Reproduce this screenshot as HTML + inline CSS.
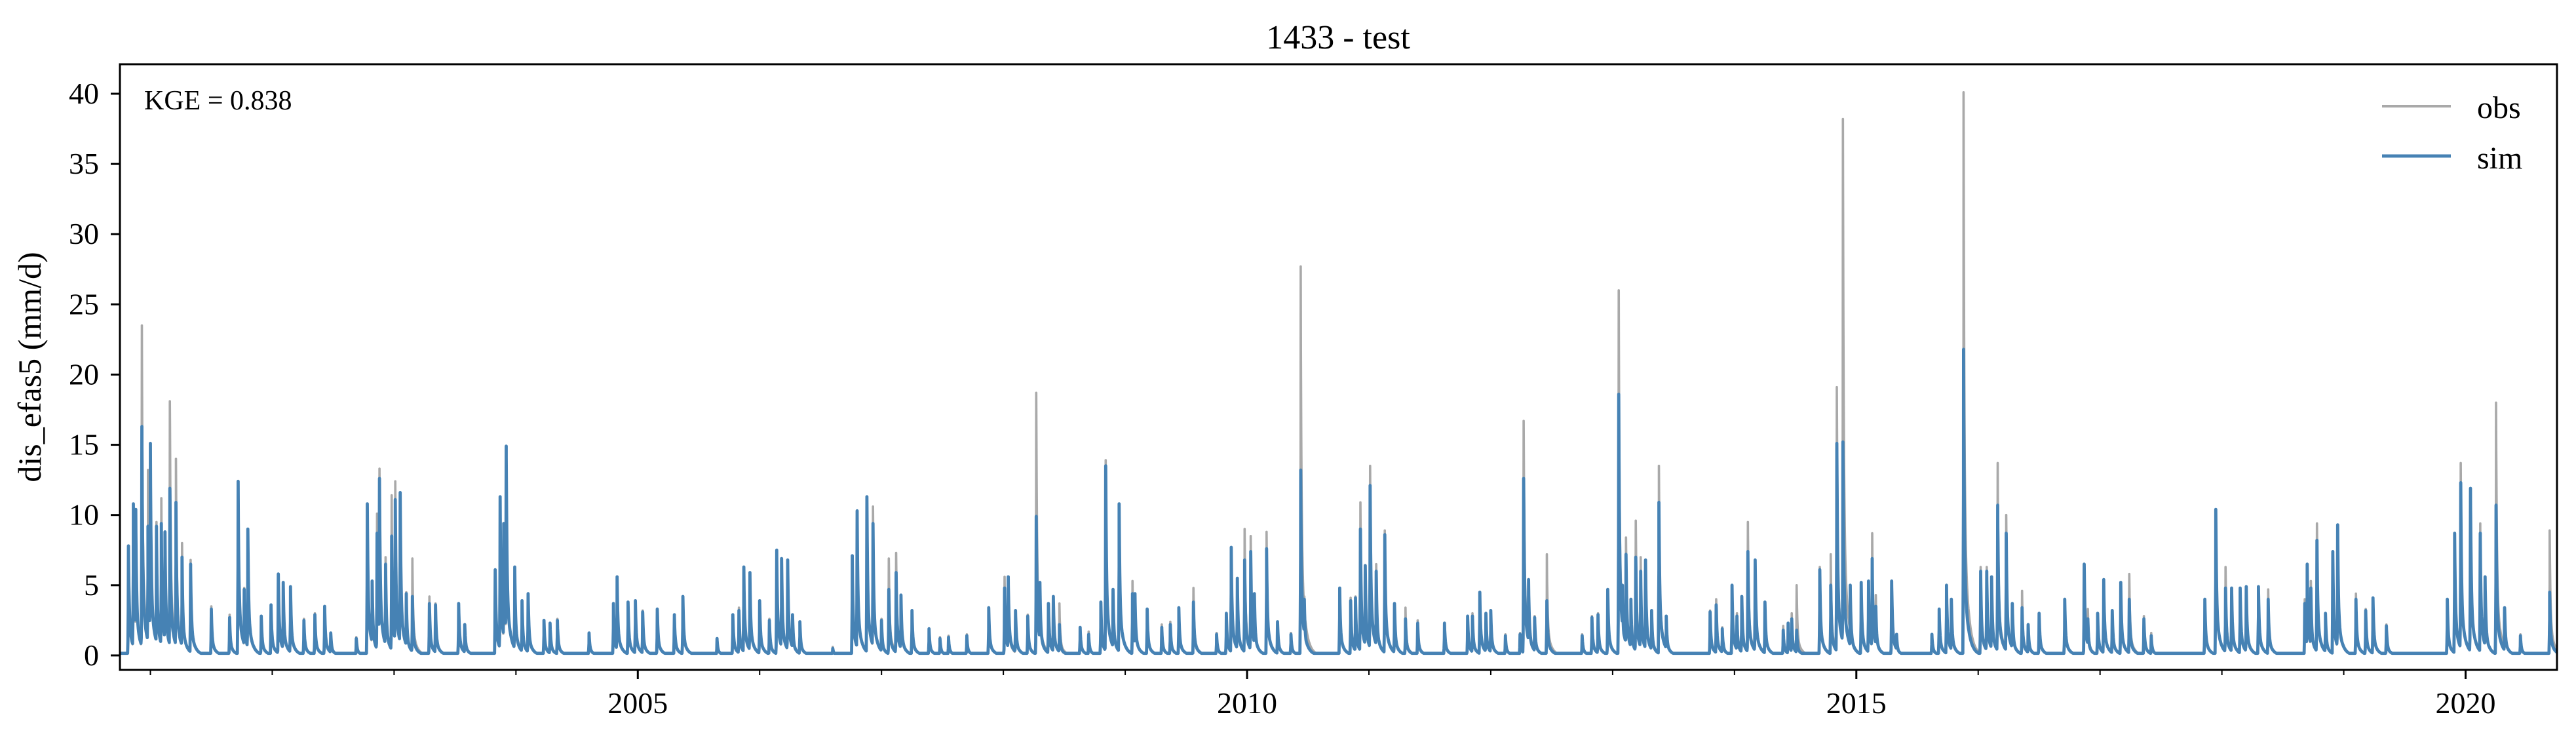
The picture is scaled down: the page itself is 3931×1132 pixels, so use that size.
<!DOCTYPE html>
<html><head><meta charset="utf-8"><style>
html,body{margin:0;padding:0;background:#fff;}
svg{display:block;}
text{font-family:"Liberation Serif",serif;fill:#000;}
</style></head><body>
<svg id="chart" width="3931" height="1132" viewBox="0 0 3931 1132" xmlns="http://www.w3.org/2000/svg">
<rect width="3931" height="1132" fill="#fff"/>
<text x="2042" y="74" font-size="52" text-anchor="middle">1433 - test</text>
<g id="plot"></g>
<g id="axes"></g>
<text x="220" y="167" font-size="42">KGE = 0.838</text>
<g>
  <g>
    <line x1="3635" y1="162" x2="3740" y2="162" stroke="#a9a9a9" stroke-width="4"/>
    <text x="3780" y="180" font-size="48">obs</text>
  </g>
  <g>
    <line x1="3635" y1="238" x2="3740" y2="238" stroke="#4682b4" stroke-width="5"/>
    <text x="3780" y="257" font-size="48">sim</text>
  </g>
</g>
<text x="0" y="0" font-size="50" text-anchor="middle" transform="translate(62,560) rotate(-90)">dis_efas5 (mm/d)</text>
</svg>
<script>
const eventYears=[2000.82,2000.86,2000.88,2000.93,2000.98,2001.0,2001.05,2001.09,2001.12,2001.16,2001.21,2001.26,2001.33,2001.5,2001.65,2001.72,2001.77,2001.8,2001.91,2001.99,2002.05,2002.09,2002.15,2002.26,2002.35,2002.43,2002.48,2002.69,2002.78,2002.82,2002.86,2002.88,2002.93,2002.98,2003.01,2003.05,2003.1,2003.15,2003.29,2003.34,2003.53,2003.58,2003.83,2003.87,2003.9,2003.92,2003.99,2004.05,2004.1,2004.23,2004.28,2004.34,2004.6,2004.8,2004.83,2004.92,2004.98,2005.04,2005.16,2005.3,2005.37,2005.65,2005.78,2005.83,2005.87,2005.92,2006.0,2006.08,2006.14,2006.18,2006.23,2006.27,2006.33,2006.6,2006.76,2006.8,2006.88,2006.93,2007.0,2007.06,2007.12,2007.16,2007.25,2007.39,2007.48,2007.55,2007.7,2007.88,2008.01,2008.04,2008.1,2008.2,2008.27,2008.3,2008.37,2008.41,2008.46,2008.63,2008.7,2008.8,2008.84,2008.9,2008.95,2009.06,2009.08,2009.18,2009.3,2009.37,2009.44,2009.56,2009.75,2009.83,2009.87,2009.92,2009.98,2010.03,2010.06,2010.16,2010.25,2010.36,2010.44,2010.47,2010.76,2010.85,2010.89,2010.93,2010.97,2011.01,2011.06,2011.13,2011.21,2011.3,2011.4,2011.62,2011.81,2011.85,2011.91,2011.96,2012.0,2012.12,2012.24,2012.27,2012.31,2012.36,2012.46,2012.75,2012.83,2012.88,2012.96,2013.05,2013.08,2013.11,2013.15,2013.19,2013.23,2013.27,2013.32,2013.38,2013.44,2013.8,2013.85,2013.9,2013.98,2014.02,2014.06,2014.11,2014.17,2014.25,2014.4,2014.44,2014.47,2014.51,2014.7,2014.79,2014.84,2014.89,2014.95,2015.04,2015.1,2015.13,2015.16,2015.29,2015.33,2015.62,2015.68,2015.74,2015.78,2015.88,2016.02,2016.07,2016.11,2016.16,2016.23,2016.28,2016.36,2016.41,2016.5,2016.71,2016.87,2016.9,2016.98,2017.03,2017.1,2017.17,2017.24,2017.36,2017.42,2017.86,2017.95,2018.03,2018.08,2018.15,2018.2,2018.3,2018.38,2018.68,2018.7,2018.73,2018.78,2018.85,2018.91,2018.95,2019.1,2019.18,2019.24,2019.35,2019.85,2019.91,2019.96,2020.04,2020.12,2020.16,2020.25,2020.32,2020.45,2020.69];
const obsPeaks=[7.8,10.8,10.4,23.5,13.2,15.1,9.5,11.2,8.8,18.1,14.0,8.0,6.8,3.5,2.9,12.4,4.8,9.0,2.8,3.6,5.8,5.2,4.9,2.6,3.0,3.5,1.6,1.3,10.8,5.3,10.1,13.3,7.0,11.4,12.4,11.6,4.5,6.9,4.2,3.7,3.7,2.2,6.1,11.3,9.4,14.9,6.3,3.9,4.4,2.5,2.3,2.6,1.6,3.7,5.6,3.8,3.9,3.2,3.3,2.9,4.2,1.2,2.9,3.4,6.3,5.9,3.9,2.6,7.5,6.9,6.8,2.9,2.4,0.6,7.1,10.3,11.3,10.6,2.6,6.9,7.3,4.3,3.2,1.9,1.3,1.4,1.5,3.4,5.6,4.8,3.2,2.9,18.7,5.2,3.7,4.2,3.7,2.0,1.7,3.8,13.9,4.7,10.8,5.3,4.3,3.3,2.2,2.4,3.4,4.8,1.6,3.0,7.7,5.5,9.0,8.5,4.4,8.8,2.4,1.6,27.7,4.2,4.8,4.1,4.2,10.9,6.4,13.5,6.5,8.9,3.7,3.4,2.5,2.3,2.8,3.0,4.5,3.0,3.2,1.5,1.6,16.7,5.4,2.8,7.2,1.5,2.8,3.0,4.7,26.0,5.0,8.4,4.0,9.6,7.0,6.8,3.2,13.5,2.8,3.2,4.0,2.0,5.0,3.0,4.2,9.5,6.8,3.8,2.1,2.3,3.0,5.0,6.3,7.2,19.1,38.2,5.0,5.2,5.3,8.7,4.3,5.3,1.5,1.5,3.3,5.0,4.0,40.1,6.3,6.3,5.6,13.7,10.0,3.7,4.6,2.2,3.0,4.0,6.5,3.3,3.0,5.4,3.2,5.2,5.8,2.8,1.6,4.0,10.4,6.3,4.8,4.8,4.9,4.9,4.7,4.0,6.5,5.3,9.4,3.0,7.4,9.3,4.4,3.3,4.1,2.2,4.0,8.7,13.7,11.9,9.4,5.6,18.0,3.4,1.5,8.9];
const simPeaks=[7.8,10.8,10.4,16.3,9.2,15.1,9.2,9.4,8.8,11.9,10.9,7.0,6.5,3.3,2.7,12.4,4.7,9.0,2.8,3.6,5.8,5.2,4.9,2.5,2.9,3.5,1.6,1.2,10.8,5.3,8.7,12.6,6.5,8.5,11.1,11.6,4.4,4.2,3.7,3.6,3.7,2.2,6.1,11.3,9.4,14.9,6.3,3.9,4.4,2.5,2.3,2.5,1.6,3.7,5.6,3.8,3.9,3.1,3.3,2.9,4.2,1.2,2.9,3.2,6.3,5.9,3.9,2.5,7.5,6.9,6.8,2.9,2.4,0.5,7.1,10.3,11.3,9.4,2.5,4.7,5.9,4.3,3.2,1.9,1.2,1.3,1.4,3.4,4.8,5.6,3.2,2.8,9.9,5.2,3.7,4.2,2.2,2.0,1.5,3.8,13.5,4.7,10.8,4.4,4.4,3.3,2.0,2.2,3.4,3.8,1.5,3.0,7.7,5.5,6.8,7.4,4.4,7.6,2.4,1.5,13.2,4.0,4.8,3.9,4.1,9.0,6.4,12.1,6.0,8.6,3.7,2.6,2.3,2.3,2.8,2.8,4.5,3.0,3.2,1.4,1.5,12.6,5.4,2.7,3.9,1.4,2.7,2.9,4.7,18.6,5.0,7.2,4.0,7.0,6.0,6.8,3.2,10.9,2.8,3.1,3.6,1.9,5.0,2.8,4.2,7.4,6.8,3.8,1.8,2.3,2.6,1.8,6.1,5.0,15.1,15.2,5.0,5.2,5.3,6.9,3.5,5.3,1.5,1.5,3.3,5.0,4.0,21.8,6.0,6.0,5.6,10.7,8.7,3.7,3.4,2.2,3.0,4.0,6.5,2.6,3.0,5.4,3.2,5.2,4.0,2.6,1.4,4.0,10.4,4.8,4.8,4.8,4.9,4.9,4.0,3.7,6.5,4.8,8.2,3.0,7.4,9.3,4.0,3.2,4.1,2.1,4.0,8.7,12.3,11.9,8.7,5.6,10.7,3.4,1.4,4.5];
const yTickValues=[0,5,10,15,20,25,30,35,40];
const xMajorYears=[2005,2010,2015,2020];
const xMinorYears=[2001,2002,2003,2004,2006,2007,2008,2009,2011,2012,2013,2014,2016,2017,2018,2019];

const L=183,R=3902,T=98,B=1022;
const X0=2000.75,X1=2020.75,Y0=-1.03,Y1=42.1;
function xs(t){return L+(t-X0)/(X1-X0)*(R-L);}
function ys(v){return B-(v-Y0)/(Y1-Y0)*(B-T);}
const NS='http://www.w3.org/2000/svg';
function mk(tag,attrs,parent){const e=document.createElementNS(NS,tag);for(const k in attrs)e.setAttribute(k,attrs[k]);parent.appendChild(e);return e;}

function series(peaks,slowFrac){
  const days=Math.round((X1-X0)*365.25);
  const times=[];
  for(let d=0;d<=days;d++)times.push(X0+d/365.25);
  eventYears.forEach(t=>times.push(t));
  times.sort((a,b)=>a-b);
  const pts=[];
  for(const t of times){
    let v=0.15;
    for(let i=0;i<eventYears.length;i++){
      const dt=(t-eventYears[i])*365.25;let s=0;
      if(dt<0&&dt>-2)s=peaks[i]*(1+dt/2)*0.6;
      else if(dt>=0&&dt<80)s=peaks[i]*((1-slowFrac)*Math.exp(-dt/2.2)+slowFrac*Math.exp(-dt/12));
      if(s>v)v=s;
    }
    pts.push(xs(t).toFixed(1)+','+ys(v).toFixed(1));
  }
  return pts.join(' ');
}
const plot=document.getElementById('plot');
const clip=mk('clipPath',{id:'clipArea'},mk('defs',{},plot));
mk('rect',{x:L,y:T,width:R-L,height:B-T},clip);
const obsLine=mk('polyline',{points:series(obsPeaks,0.28),fill:'none',stroke:'#a9a9a9','stroke-width':3.6,'stroke-linejoin':'round','clip-path':'url(#clipArea)'},plot);


const simLine=mk('polyline',{points:series(simPeaks,0.3),fill:'none',stroke:'#4682b4','stroke-width':4.8,'stroke-linejoin':'round','clip-path':'url(#clipArea)'},plot);



const axes=document.getElementById('axes');
const frame=mk('rect',{x:L,y:T,width:R-L,height:B-T,fill:'none',stroke:'#000','stroke-width':3},axes);


yTickValues.forEach(v=>{
  const y=ys(v);
  const tk=mk('line',{x1:L-14,x2:L,y1:y,y2:y,stroke:'#000','stroke-width':3},axes);
  
  
  const lb=mk('text',{x:L-32,y:y+15,'font-size':46,'text-anchor':'end'},axes);
  lb.textContent=v;
  
  
});
xMajorYears.forEach(yr=>{
  const x=xs(yr);
  const tk=mk('line',{x1:x,x2:x,y1:B,y2:B+14,stroke:'#000','stroke-width':3},axes);
  
  
  const lb=mk('text',{x:x,y:B+66,'font-size':46,'text-anchor':'middle'},axes);
  lb.textContent=yr;
  
  
});
xMinorYears.forEach(yr=>{
  const x=xs(yr);
  const tk=mk('line',{x1:x,x2:x,y1:B,y2:B+8,stroke:'#000','stroke-width':2},axes);
  
  
});
</script>
</body></html>
